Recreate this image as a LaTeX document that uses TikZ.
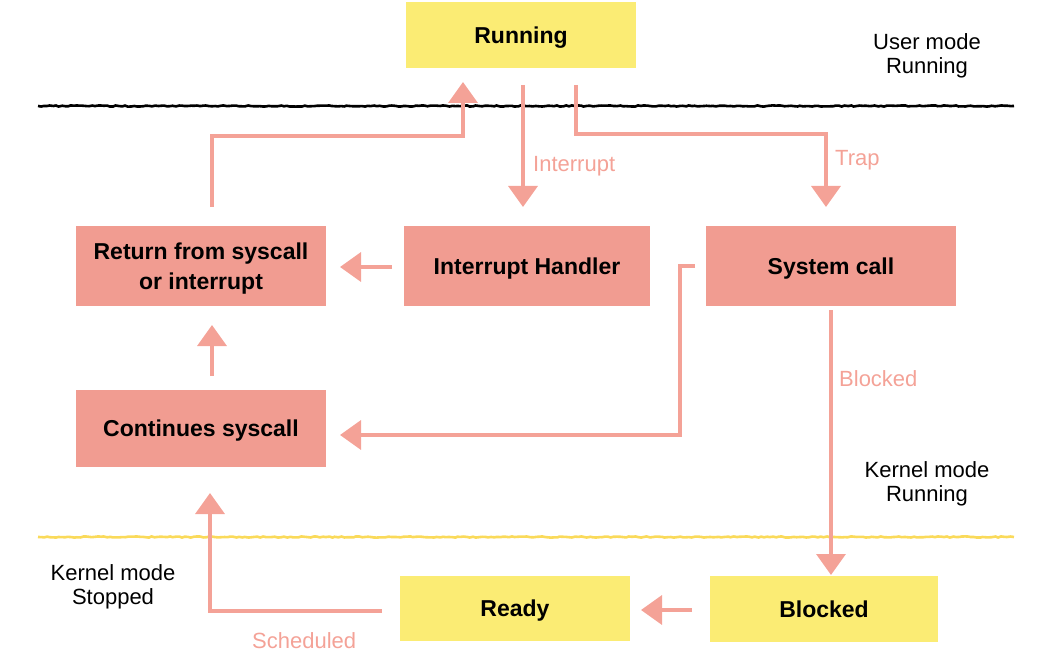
\documentclass[tikz,border=0pt]{standalone}
\usepackage{fontspec}
\setmainfont{Liberation Sans}
\usetikzlibrary{arrows.meta,decorations.pathmorphing}
\definecolor{salmon}{HTML}{F19C91}
\definecolor{arrowc}{HTML}{F4A297}
\definecolor{yel}{HTML}{FBEC74}
\definecolor{yline}{HTML}{FADA5A}
\tikzset{
  box/.style={rectangle, inner sep=0pt, align=center, text depth=-4pt, font=\fontsize{23}{30}\selectfont\bfseries},
  salbox/.style={box, fill=salmon},
  yelbox/.style={box, fill=yel},
  arr/.style={draw=arrowc, line width=3.5pt, -{Triangle[width=29pt,length=21pt]}},
  lbl/.style={text=arrowc, font=\fontsize{22}{24}\selectfont, inner sep=0pt},
  note/.style={font=\fontsize{22}{24}\selectfont, align=center, inner sep=0pt},
  modeline/.style={line width=2.6pt, decorate, decoration={random steps, segment length=3pt, amplitude=0.6pt}}
}
\begin{document}
\begin{tikzpicture}[x=1pt,y=-1pt]
\useasboundingbox (0,0) rectangle (1042,666);
% mode lines
\coordinate (bl1) at (38,106);
\coordinate (bl2) at (1014,106);
\coordinate (yl1) at (38,537);
\coordinate (yl2) at (1014,537);
\draw[modeline, black] (bl1) -- (bl2);
\draw[modeline, yline] (yl1) -- (yl2);
% boxes
\node[yelbox, minimum width=230pt, minimum height=66pt] (run) at (521,35) {Running};
\node[salbox, minimum width=250pt, minimum height=80pt] (ret) at (201,266) {Return from syscall\\or interrupt};
\node[salbox, minimum width=246pt, minimum height=80pt] (ih) at (527,266) {Interrupt Handler};
\node[salbox, minimum width=250pt, minimum height=80pt] (sc) at (831,266) {System call};
\node[salbox, minimum width=250pt, minimum height=77pt] (cont) at (201,428.5) {Continues syscall};
\node[yelbox, minimum width=230pt, minimum height=65pt] (ready) at (515,608.5) {Ready};
\node[yelbox, minimum width=228pt, minimum height=66pt] (blk) at (824,609) {Blocked};
% notes
\node[note] (um) at (927,56) {User mode\\Running};
\node[note] (kr) at (927,484) {Kernel mode\\Running};
\node[note] (ks) at (113,587) {Kernel mode\\Stopped};
% arrow coordinates
\coordinate (a1s) at (212,207);
\coordinate (a1b) at (212,136);
\coordinate (a1c) at (463,136);
\coordinate (a1e) at (463,82);
\coordinate (a2s) at (523,85);
\coordinate (a2e) at (523,207);
\coordinate (a3s) at (576,85);
\coordinate (a3b) at (576,134);
\coordinate (a3c) at (826,134);
\coordinate (a3e) at (826,207);
\coordinate (a4s) at (392,267);
\coordinate (a4e) at (340,267);
\coordinate (a5s) at (212,376);
\coordinate (a5e) at (212,325);
\coordinate (a6s) at (695,266);
\coordinate (a6b) at (680,266);
\coordinate (a6c) at (680,435);
\coordinate (a6e) at (340,435);
\coordinate (a7s) at (831,310);
\coordinate (a7e) at (831,575);
\coordinate (a8s) at (692,610);
\coordinate (a8e) at (641,610);
\coordinate (a9s) at (382,611);
\coordinate (a9b) at (210,611);
\coordinate (a9e) at (210,493);
% arrows
\draw[arr] (a1s) -- (a1b) -- (a1c) -- (a1e);
\draw[arr] (a2s) -- (a2e);
\draw[arr] (a3s) -- (a3b) -- (a3c) -- (a3e);
\draw[arr] (a4s) -- (a4e);
\draw[arr] (a5s) -- (a5e);
\draw[arr] (a6s) -- (a6b) -- (a6c) -- (a6e);
\draw[arr] (a7s) -- (a7e);
\draw[arr] (a8s) -- (a8e);
\draw[arr] (a9s) -- (a9b) -- (a9e);
% labels
\node[lbl, anchor=west] (lint) at (533,166) {Interrupt};
\node[lbl, anchor=west] (ltrap) at (835,160) {Trap};
\node[lbl, anchor=west] (lblk) at (839,379) {Blocked};
\node[lbl, anchor=west] (lsch) at (252,641) {Scheduled};
\end{tikzpicture}
\end{document}
